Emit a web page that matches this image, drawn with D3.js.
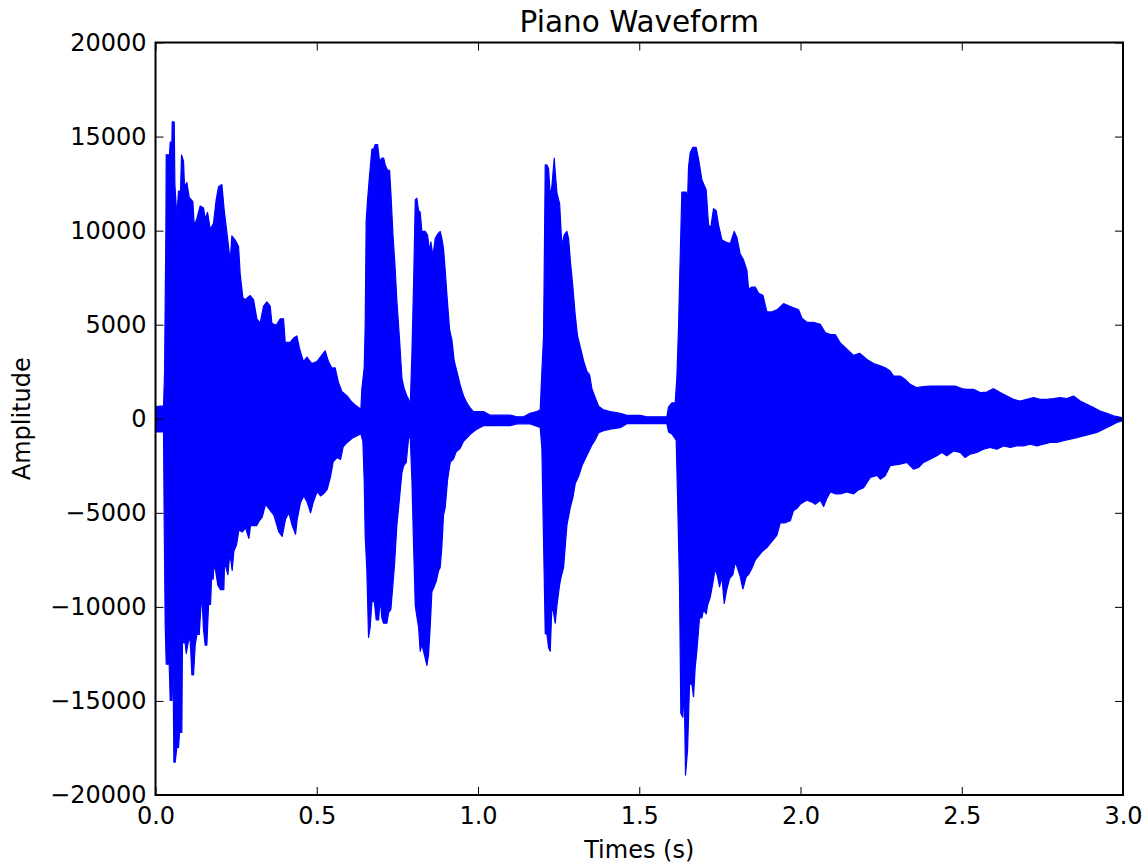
<!DOCTYPE html>
<html>
<head>
<meta charset="utf-8">
<script src="https://cdn.jsdelivr.net/npm/d3@7"></script>
<style>
  html, body { margin: 0; padding: 0; background: #ffffff; }
  svg { display: block; }
  text { font-family: "DejaVu Sans", sans-serif; fill: #000; }
</style>
</head>
<body>
<div id="chart"></div>
<script>
// ---------------- data ----------------
const chartTitle = "Piano Waveform";
const xLabel = "Times (s)";
const yLabel = "Amplitude";
const xTicks = [0.0, 0.5, 1.0, 1.5, 2.0, 2.5, 3.0];
const xTickLabels = ["0.0", "0.5", "1.0", "1.5", "2.0", "2.5", "3.0"];
const yTicks = [-20000, -15000, -10000, -5000, 0, 5000, 10000, 15000, 20000];
const yTickLabels = ["\u221220000", "\u221215000", "\u221210000", "\u22125000", "0", "5000", "10000", "15000", "20000"];
const xDomain = [0, 3.0];
const yDomain = [-20000, 20000];

// upper envelope of the waveform: [time (s), amplitude]
const envelopeUpper = [
  [0.000, 650], [0.0249, 680], [0.0280, 2360], [0.0322, 10000], [0.0332, 14030], [0.0435, 14030], [0.0456, 14710], [0.0508, 14710],
  [0.0518, 15780], [0.0580, 15780], [0.0601, 12450], [0.0662, 10750], [0.0714, 12100], [0.0776, 12100], [0.0807, 14030], [0.0869, 13690],
  [0.0900, 12330], [0.0972, 12560], [0.1045, 11770], [0.1159, 11540], [0.1200, 10290], [0.1283, 10630], [0.1386, 11310], [0.1490, 11200],
  [0.1541, 10630], [0.1614, 10970], [0.1697, 10060], [0.1800, 10410], [0.1882, 11650], [0.1955, 12330], [0.2058, 12450], [0.2130, 11090],
  [0.2234, 9610], [0.2316, 8370], [0.2368, 9720], [0.2471, 9500], [0.2575, 9160], [0.2626, 7690], [0.2709, 6440], [0.2781, 6330],
  [0.2854, 6440], [0.2936, 6550], [0.3040, 6330], [0.3143, 5310], [0.3246, 5080], [0.3350, 5990], [0.3453, 6210], [0.3557, 5990],
  [0.3608, 5080], [0.3743, 4970], [0.3867, 5310], [0.3970, 5310], [0.4022, 4060], [0.4177, 4060], [0.4281, 4290], [0.4384, 4400],
  [0.4467, 3720], [0.4589, 3040], [0.4693, 3270], [0.4848, 2930], [0.5003, 3040], [0.5158, 3380], [0.5261, 3610], [0.5364, 3040],
  [0.5468, 2700], [0.5571, 2700], [0.5675, 1910], [0.5778, 1450], [0.5933, 1230], [0.6088, 890], [0.6244, 660], [0.6368, 500],
  [0.6399, 1590], [0.6471, 2700], [0.6502, 4940], [0.6533, 10510], [0.6575, 11630], [0.6637, 12930], [0.6710, 14330], [0.6761, 14330],
  [0.6813, 14570], [0.6886, 14570], [0.6948, 13680], [0.7020, 13860], [0.7072, 13860], [0.7124, 13490], [0.7196, 13210], [0.7258, 13210],
  [0.7299, 12000], [0.7361, 9860], [0.7434, 7910], [0.7485, 6240], [0.7568, 4190], [0.7641, 2150], [0.7713, 1590], [0.7796, 1210],
  [0.7848, 1030], [0.7900, 750],
  [0.7951, 3450], [0.8003, 7170], [0.8055, 11630], [0.8104, 11720], [0.8156, 11070], [0.8208, 10980], [0.8259, 9960], [0.8363, 9960],
  [0.8435, 9770], [0.8497, 8930], [0.8539, 9400], [0.8601, 8650], [0.8673, 9580], [0.8746, 9810], [0.8828, 9960], [0.8880, 9580],
  [0.8932, 9020], [0.8983, 7910], [0.9035, 6610], [0.9118, 4750], [0.9190, 4190], [0.9262, 3080], [0.9345, 2520], [0.9448, 1780],
  [0.9552, 1210], [0.9655, 840], [0.9758, 570], [0.9861, 380], [1.0171, 380], [1.0378, 190], [1.1000, 190], [1.1205, 100],
  [1.1412, 100], [1.1618, 290], [1.1825, 380], [1.1929, 470],
  [1.1981, 2520], [1.2033, 4380], [1.2085, 13490], [1.2136, 13490], [1.2188, 13300], [1.2240, 11820], [1.2292, 12370], [1.2364, 13860],
  [1.2395, 13120], [1.2447, 12000], [1.2530, 11440], [1.2602, 9210], [1.2674, 9770], [1.2757, 9960], [1.2809, 9580], [1.2860, 8470],
  [1.2943, 6980], [1.3016, 5490], [1.3088, 4380], [1.3171, 3820], [1.3274, 3080], [1.3378, 2520], [1.3461, 2330], [1.3533, 1590],
  [1.3636, 1120], [1.3740, 660], [1.3895, 470], [1.4102, 380], [1.4409, 290], [1.4616, 180], [1.5029, 180], [1.5236, 100],
  [1.5856, 100],
  [1.5908, 620], [1.6011, 840], [1.6114, 840], [1.6166, 2160], [1.6217, 4800], [1.6269, 8540], [1.6321, 12050], [1.6455, 12050],
  [1.6497, 11610], [1.6528, 13370], [1.6579, 14140], [1.6662, 14430], [1.6765, 14430], [1.6838, 13810], [1.6941, 12710], [1.7076, 12160],
  [1.7148, 10290], [1.7221, 10190], [1.7303, 11170], [1.7386, 11060], [1.7459, 10290], [1.7562, 9520], [1.7666, 9410], [1.7821, 9310],
  [1.7945, 9960], [1.8028, 9630], [1.8131, 8750], [1.8235, 8430], [1.8339, 7880], [1.8390, 6890], [1.8494, 7000], [1.8597, 7000],
  [1.8700, 6670], [1.8835, 6560], [1.8959, 5680], [1.9114, 5680], [1.9269, 5790], [1.9476, 6120], [1.9631, 6010], [1.9786, 5900],
  [1.9941, 5790], [2.0045, 5350], [2.0200, 5130], [2.0406, 5130], [2.0613, 5020], [2.0768, 4580], [2.0924, 4470], [2.1079, 4470],
  [2.1234, 4030], [2.1440, 3700], [2.1647, 3370], [2.1833, 3480], [2.2061, 3150], [2.2268, 2930], [2.2475, 2820], [2.2626, 2710],
  [2.2781, 2540], [2.2884, 2270], [2.3091, 2270], [2.3246, 2090], [2.3401, 1830], [2.3608, 1650], [2.3814, 1710], [2.4021, 1740],
  [2.4279, 1740], [2.4537, 1740], [2.4796, 1740], [2.5002, 1600], [2.5158, 1560], [2.5364, 1560], [2.5571, 1390], [2.5778, 1420],
  [2.5985, 1600], [2.6192, 1390], [2.6398, 1210], [2.6605, 1030], [2.6812, 940], [2.7019, 1030], [2.7225, 1120], [2.7432, 1030],
  [2.7639, 1030], [2.7845, 1070], [2.8052, 1120], [2.8259, 1070], [2.8465, 1210], [2.8672, 940], [2.8879, 770], [2.9085, 590],
  [2.9292, 410], [2.9499, 290], [2.9706, 150], [2.9964, 60], [3.0, 0]
];

// lower envelope of the waveform: [time (s), amplitude]
const envelopeLower = [
  [0.000, -700], [0.0249, -700], [0.0270, -5570], [0.0301, -11000], [0.0332, -13050], [0.0425, -13050], [0.0456, -14970], [0.0508, -14970],
  [0.0539, -12140], [0.0570, -18260], [0.0611, -18260], [0.0662, -17470], [0.0714, -17470], [0.0745, -16670], [0.0817, -16670], [0.0838, -11230],
  [0.0869, -11910], [0.0921, -11910], [0.0952, -12480], [0.1024, -11800], [0.1076, -11800], [0.1128, -13610], [0.1180, -13610], [0.1231, -12030],
  [0.1283, -11460], [0.1355, -11460], [0.1417, -9760], [0.1448, -9760], [0.1490, -11230], [0.1541, -12030], [0.1593, -12030], [0.1645, -9870],
  [0.1707, -9870], [0.1738, -8520], [0.1790, -8520], [0.1810, -7720], [0.1862, -8060], [0.1934, -8860], [0.2016, -9080], [0.2120, -9080],
  [0.2141, -7610], [0.2244, -8290], [0.2306, -7150], [0.2378, -8060], [0.2430, -7040], [0.2513, -6700], [0.2585, -5910], [0.2688, -6020],
  [0.2792, -5800], [0.2895, -6360], [0.2947, -5680], [0.3133, -5680], [0.3205, -5460], [0.3308, -5230], [0.3412, -4550], [0.3515, -4780],
  [0.3670, -5120], [0.3825, -6020], [0.3929, -6250], [0.4032, -5340], [0.4136, -5000], [0.4239, -5680], [0.4343, -6140], [0.4395, -5340],
  [0.4498, -4440], [0.4601, -4100], [0.4705, -4440], [0.4808, -5000], [0.4891, -4440], [0.5014, -3870], [0.5117, -4100], [0.5220, -3980],
  [0.5324, -3750], [0.5427, -3080], [0.5510, -2280], [0.5633, -2060], [0.5737, -2170], [0.5819, -1490], [0.5943, -1260], [0.6098, -1040],
  [0.6254, -900], [0.6368, -800],
  [0.6430, -1200], [0.6471, -3250], [0.6502, -6220], [0.6554, -8080], [0.6606, -11620], [0.6658, -11060], [0.6710, -9760], [0.6782, -9670],
  [0.6844, -10690], [0.6917, -10690], [0.6969, -9570], [0.7020, -10600], [0.7072, -10870], [0.7175, -10870], [0.7227, -10310], [0.7299, -10130],
  [0.7361, -8830], [0.7413, -7710], [0.7485, -5660], [0.7568, -4180], [0.7641, -2870], [0.7693, -2500], [0.7775, -2320], [0.7848, -1020],
  [0.7900, -1020],
  [0.7951, -3250], [0.8003, -6780], [0.8055, -9940], [0.8104, -10500], [0.8156, -11060], [0.8208, -12360], [0.8259, -11990], [0.8311, -12360],
  [0.8363, -12730], [0.8415, -13110], [0.8466, -12550], [0.8518, -11060], [0.8570, -9200], [0.8621, -9010], [0.8704, -8640], [0.8777, -8080],
  [0.8828, -7900], [0.8880, -6780], [0.8932, -5110], [0.8983, -4730], [0.9056, -3250], [0.9138, -2320], [0.9242, -2130], [0.9324, -1760],
  [0.9448, -1570], [0.9552, -1200], [0.9655, -1020], [0.9758, -830], [0.9965, -550], [1.0171, -370], [1.1000, -370], [1.1205, -270],
  [1.1618, -270], [1.1929, -460],
  [1.1981, -1560], [1.2012, -4550], [1.2054, -8460], [1.2085, -11430], [1.2136, -11430], [1.2188, -12170], [1.2240, -12360], [1.2292, -9940],
  [1.2343, -10310], [1.2395, -10870], [1.2447, -9940], [1.2530, -8830], [1.2571, -8460], [1.2654, -7900], [1.2705, -6780], [1.2757, -5660],
  [1.2860, -4730], [1.2943, -4180], [1.3016, -3440], [1.3119, -3060], [1.3223, -2500], [1.3326, -2130], [1.3430, -1760], [1.3533, -1390],
  [1.3636, -1110], [1.3740, -740], [1.3895, -640], [1.4102, -550], [1.4409, -480], [1.4616, -260], [1.5856, -260],
  [1.5908, -700], [1.6011, -810], [1.6145, -1140], [1.6186, -3990], [1.6248, -8830], [1.6290, -15650], [1.6352, -15870], [1.6393, -14110],
  [1.6435, -18940], [1.6497, -17620], [1.6559, -14110], [1.6631, -14110], [1.6683, -14770], [1.6734, -13230], [1.6786, -12350], [1.6869, -10590],
  [1.6941, -10590], [1.6993, -10150], [1.7076, -10370], [1.7117, -9930], [1.7200, -9490], [1.7283, -8720], [1.7355, -7950], [1.7428, -8390],
  [1.7490, -8940], [1.7562, -8390], [1.7635, -9820], [1.7717, -9050], [1.7800, -8500], [1.7904, -8280], [1.7976, -7620], [1.8049, -7950],
  [1.8131, -8390], [1.8214, -9050], [1.8318, -8390], [1.8390, -8280], [1.8494, -7950], [1.8597, -7510], [1.8700, -7290], [1.8804, -7070],
  [1.8959, -6850], [1.9062, -6630], [1.9165, -6410], [1.9269, -6190], [1.9372, -5530], [1.9527, -5530], [1.9683, -5420], [1.9786, -4870],
  [1.9890, -4770], [1.9993, -4540], [2.0096, -4430], [2.0200, -4330], [2.0355, -4430], [2.0458, -4540], [2.0613, -4330], [2.0717, -4660],
  [2.0820, -4220], [2.0924, -3890], [2.1079, -3990], [2.1234, -3990], [2.1440, -3890], [2.1647, -3990], [2.1802, -3780], [2.1957, -3670],
  [2.2164, -3120], [2.2371, -3010], [2.2475, -3210], [2.2626, -3030], [2.2781, -2500], [2.3091, -2410], [2.3298, -2320], [2.3504, -2680],
  [2.3659, -2590], [2.3814, -2320], [2.4021, -2150], [2.4228, -1970], [2.4382, -1790], [2.4537, -1970], [2.4744, -1710], [2.4951, -1790],
  [2.5106, -2060], [2.5261, -1880], [2.5468, -1790], [2.5675, -1620], [2.5881, -1530], [2.6088, -1620], [2.6295, -1440], [2.6502, -1530],
  [2.6708, -1440], [2.6915, -1440], [2.7122, -1350], [2.7329, -1440], [2.7535, -1350], [2.7742, -1260], [2.7949, -1260], [2.8155, -1170],
  [2.8362, -1090], [2.8569, -1000], [2.8775, -910], [2.8982, -820], [2.9189, -730], [2.9396, -560], [2.9602, -380], [2.9809, -200],
  [2.9964, -120], [3.0, 0]
];

// ---------------- layout ----------------
const W = 1146, H = 863;
const plot = { left: 155.5, right: 1123, top: 42.5, bottom: 795 };
const fontSize = 24;

const svg = d3.select("#chart").append("svg")
  .attr("width", W).attr("height", H)
  .attr("viewBox", `0 0 ${W} ${H}`);

svg.append("rect").attr("width", W).attr("height", H).attr("fill", "#ffffff");

const x = d3.scaleLinear().domain(xDomain).range([plot.left, plot.right]);
const y = d3.scaleLinear().domain(yDomain).range([plot.bottom, plot.top]);

svg.append("clipPath").attr("id", "clip")
  .append("rect")
  .attr("x", plot.left).attr("y", plot.top)
  .attr("width", plot.right - plot.left).attr("height", plot.bottom - plot.top);

// waveform envelope drawn as a filled band
const line = d3.line().x(d => x(d[0])).y(d => y(d[1])).curve(d3.curveLinear);
const bandPoints = envelopeUpper.concat(envelopeLower.slice().reverse());
svg.append("path")
  .attr("clip-path", "url(#clip)")
  .attr("d", line(bandPoints) + "Z")
  .attr("fill", "#0000ff")
  .attr("stroke", "#0000ff")
  .attr("stroke-width", 1.2)
  .attr("stroke-linejoin", "round");

// ---------------- axes ----------------
const tickLen = 8;
function styleAxis(g) {
  g.select(".domain").remove();
  g.selectAll(".tick line").attr("stroke", "#000").attr("stroke-width", 1);
  g.selectAll(".tick text").attr("font-family", "DejaVu Sans").attr("font-size", fontSize).attr("fill", "#000");
}

svg.append("g")
  .attr("transform", `translate(0,${plot.bottom})`)
  .call(d3.axisBottom(x).tickValues(xTicks).tickFormat((d, i) => xTickLabels[i])
    .tickSizeInner(-tickLen).tickSizeOuter(0).tickPadding(12))
  .call(styleAxis);

svg.append("g")
  .attr("transform", `translate(0,${plot.top})`)
  .call(d3.axisTop(x).tickValues(xTicks).tickFormat("")
    .tickSizeInner(-tickLen).tickSizeOuter(0))
  .call(styleAxis);

svg.append("g")
  .attr("transform", `translate(${plot.left},0)`)
  .call(d3.axisLeft(y).tickValues(yTicks).tickFormat((d, i) => yTickLabels[i])
    .tickSizeInner(-tickLen).tickSizeOuter(0).tickPadding(9))
  .call(styleAxis);

svg.append("g")
  .attr("transform", `translate(${plot.right},0)`)
  .call(d3.axisRight(y).tickValues(yTicks).tickFormat("")
    .tickSizeInner(-tickLen).tickSizeOuter(0))
  .call(styleAxis);

// frame
svg.append("rect")
  .attr("x", plot.left).attr("y", plot.top)
  .attr("width", plot.right - plot.left).attr("height", plot.bottom - plot.top)
  .attr("fill", "none").attr("stroke", "#000").attr("stroke-width", 2);

// ---------------- labels ----------------
svg.append("text")
  .attr("x", (plot.left + plot.right) / 2).attr("y", 31.5)
  .attr("text-anchor", "middle")
  .attr("font-size", 29.5)
  .text(chartTitle);

svg.append("text")
  .attr("x", (plot.left + plot.right) / 2).attr("y", 857.5)
  .attr("text-anchor", "middle")
  .attr("font-size", fontSize)
  .text(xLabel);

svg.append("text")
  .attr("transform", `translate(29.5,${(plot.top + plot.bottom) / 2}) rotate(-90)`)
  .attr("text-anchor", "middle")
  .attr("font-size", fontSize)
  .text(yLabel);
</script>
</body>
</html>
